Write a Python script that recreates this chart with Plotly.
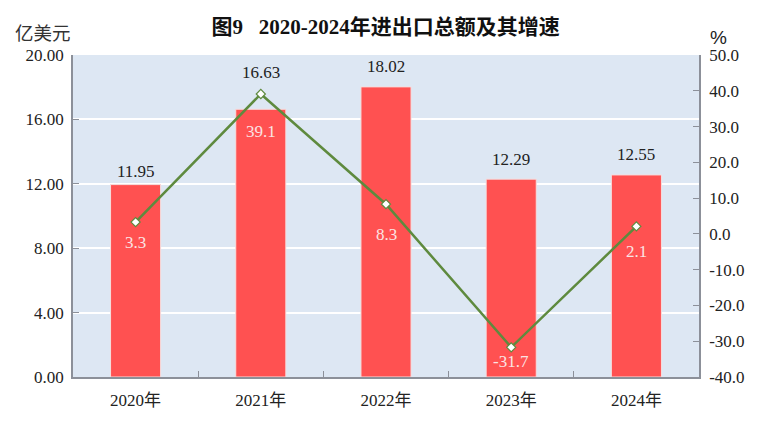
import plotly.graph_objects as go

years = ["2020年", "2021年", "2022年", "2023年", "2024年"]
totals = [11.95, 16.63, 18.02, 12.29, 12.55]
growth = [3.3, 39.1, 8.3, -31.7, 2.1]
growth_text = ["3.3", "39.1", "8.3", "-31.7", "2.1"]
left_ticks = [0, 4, 8, 12, 16, 20]
right_ticks = [-40, -30, -20, -10, 0, 10, 20, 30, 40, 50]

# label offsets in pixels (styling only)
total_label_shift = [13, 37, 20, 20, 20]
growth_label_shift = [-20, -37, -30, -14, -25]

SERIF = "Liberation Serif, Times New Roman, Noto Sans CJK SC, serif"
AXIS = "#8c9099"
TXT = "#222222"

fig = go.Figure()
fig.add_trace(go.Bar(
    x=years, y=totals, width=0.4,
    marker=dict(color="#ff5151", line=dict(color="#f6dede", width=1)),
    yaxis="y", showlegend=False, hoverinfo="skip",
))
fig.add_trace(go.Scatter(
    x=years, y=growth, mode="lines+markers", yaxis="y2",
    line=dict(color="#5e8a3e", width=2.5),
    marker=dict(symbol="diamond", size=7, color="white",
                line=dict(color="#5e8a3e", width=1.2)),
    showlegend=False, cliponaxis=False,
))
for xv, yv, s in zip(years, totals, total_label_shift):
    fig.add_annotation(x=xv, y=yv, yref="y", text=f"{yv:.2f}", showarrow=False,
                       yanchor="middle", yshift=s,
                       font=dict(family=SERIF, size=17, color=TXT))
for xv, yv, t, s in zip(years, growth, growth_text, growth_label_shift):
    fig.add_annotation(x=xv, y=yv, yref="y2", text=t, showarrow=False,
                       yanchor="middle", yshift=s,
                       font=dict(family=SERIF, size=17, color="#fbe3e3"))

fig.update_layout(
    width=760, height=418,
    margin=dict(l=65, r=69, t=47, b=49),
    paper_bgcolor="white", plot_bgcolor="#dde7f3",
    title=dict(text="<b>图9   2020-2024年进出口总额及其增速</b>", x=0.497, xanchor="center",
               y=1 - 19 / 418, yanchor="middle",
               font=dict(family=SERIF, size=21, color="#111111")),
    xaxis=dict(showline=True, linecolor=AXIS, linewidth=1.5, ticks="inside",
               tickson="boundaries", ticklen=6, tickcolor=AXIS,
               ticklabelstandoff=7,
               tickfont=dict(family=SERIF, size=17, color=TXT),
               showgrid=False),
    yaxis=dict(range=[0, 20], tickvals=left_ticks,
               ticktext=[f"{v:.2f}" for v in left_ticks],
               showline=True, linecolor=AXIS, linewidth=1.5,
               ticks="inside", ticklen=6, tickcolor=AXIS,
               showgrid=True, gridcolor="white", gridwidth=1.5,
               zeroline=False, ticklabelstandoff=4,
               tickfont=dict(family=SERIF, size=17, color=TXT)),
    yaxis2=dict(range=[-40, 50], tickvals=right_ticks,
                ticktext=[f"{v:.1f}" for v in right_ticks],
                overlaying="y", side="right",
                showline=True, linecolor=AXIS, linewidth=1.5,
                ticks="inside", ticklen=6, tickcolor=AXIS,
                showgrid=False, zeroline=False, ticklabelstandoff=5,
                tickfont=dict(family=SERIF, size=17, color=TXT)),
)
fig.add_annotation(text="亿美元", xref="paper", yref="paper", x=-0.096, y=1.071,
                   xanchor="left", yanchor="middle", showarrow=False,
                   font=dict(family="Noto Sans CJK SC", size=18.5, color="#333333"))
fig.add_annotation(text="%", xref="paper", yref="paper", x=1.014, y=1.053,
                   xanchor="left", yanchor="middle", showarrow=False,
                   font=dict(family="Liberation Sans, Arial", size=19, color=TXT))

fig.write_html("out.html")
